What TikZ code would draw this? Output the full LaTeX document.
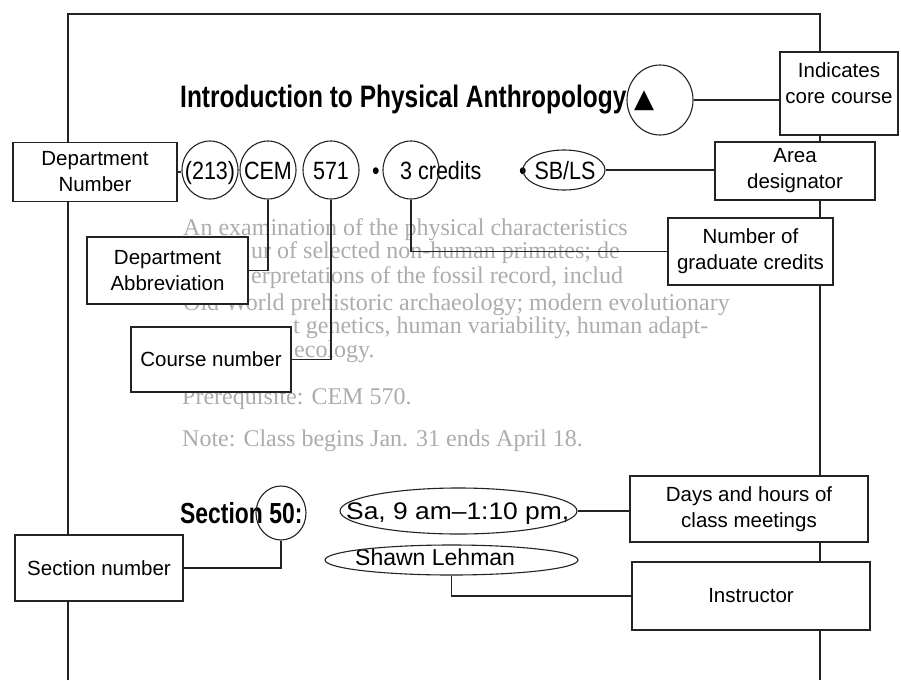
\documentclass[tikz,border=0pt]{standalone}
\usepackage{fontspec}
\setmainfont{Liberation Serif}
\usepackage{tikz}
\usetikzlibrary{shapes.geometric}
\newfontfamily\boxfont{Liberation Sans}
\newfontfamily\rowfont{Liberation Sans}[FakeStretch=0.86]
\newfontfamily\meetfont{Liberation Sans}[FakeStretch=1.1]
\newfontfamily\headfont{Liberation Sans}[FakeStretch=0.79]
\newfontfamily\symfont{DejaVu Sans}
\definecolor{fadetext}{RGB}{172,172,172}
\definecolor{inkline}{RGB}{35,35,35}

\begin{document}
\begin{tikzpicture}[
  x=1pt, y=-1pt,
  calloutbox/.style={draw=inkline, fill=white, line width=1.1pt, inner sep=0, align=center,
    font=\boxfont\fontsize{20.5}{26}\selectfont},
  ring/.style={ellipse, draw=inkline, line width=1.1pt, inner sep=0},
  rowtext/.style={font=\rowfont\fontsize{25}{25}\selectfont, inner sep=0, anchor=base},
  headtext/.style={font=\headfont\bfseries\fontsize{31}{31}\selectfont, inner sep=0, anchor=west},
  fadeline/.style={font=\fontsize{24}{24}\selectfont, text=fadetext, inner sep=0, anchor=base west},
  link/.style={draw=inkline, line width=1.1pt},
]
\useasboundingbox (0,0) rectangle (901,680);

% Page frame (open at the bottom)
\draw[link] (68,680) -- (68,14) -- (820,14) -- (820,680);

% ==================== Faded course description ====================
\node[fadeline] (desc1) at (183,235) {An examination of the physical characteristics};
\node[fadeline] (desc2) at (251,258) {ur of selected non-human primates; de};
\node[fadeline] (desc3) at (251,283) {erpretations of the fossil record, includ};
\node[fadeline] (desc4) at (183,310) {Old World prehistoric archaeology; modern evolutionary};
\node[fadeline] (desc5) at (293,333) {t genetics, human variability, human adapt-};
\node[fadeline] (desc6) at (294,357) {ecology.};
\node[fadeline] (prereq) at (182,404) {Prerequisite: CEM 570.};
\node[fadeline] (note) at (182,446) {Note: Class begins Jan. 31 ends April 18.};

% ==================== Callout boxes ====================
\node[calloutbox, minimum width=118pt, minimum height=83pt] (core) at (839,93.5) {Indicates\\core course\\[-5pt]\mbox{}};
\node[calloutbox, minimum width=160pt, minimum height=58pt] (area) at (795,171) {Area\\designator};
\node[calloutbox, minimum width=165pt, minimum height=67pt] (gradcred) at (750.5,251.5) {Number of\\graduate credits};
\node[calloutbox, minimum width=164pt, minimum height=59pt] (deptnum) at (95,172) {Department\\Number};
\node[calloutbox, minimum width=161pt, minimum height=67pt] (deptabbr) at (167.5,270.5) {Department\\Abbreviation};
\node[calloutbox, minimum width=160pt, minimum height=65pt] (coursenum) at (211,359.5) {Course number};
\node[calloutbox, minimum width=168pt, minimum height=66pt] (sectnum) at (99,568) {Section number};
\node[calloutbox, minimum width=238pt, minimum height=66pt] (meethours) at (749,509) {Days and hours of\\class meetings};
\node[calloutbox, minimum width=238pt, minimum height=68pt] (instr) at (751,596) {Instructor};

% ==================== Listing text ====================
\node[headtext] (title) at (180,100) {Introduction to Physical Anthropology};
\node[inner sep=0, font=\symfont\fontsize{26}{26}\selectfont] (tri) at (644,101) {▲};

\node[rowtext] (t213) at (210,179) {(213)};
\node[rowtext] (tcem) at (268,179) {CEM};
\node[rowtext] (t571) at (331,179) {571};
\node[rowtext] (dot1) at (376,179) {•};
\node[rowtext, anchor=base west] (tcred) at (400,179) {3 credits};
\node[rowtext] (dot2) at (523,179) {•};
\node[rowtext] (tsbls) at (565,179) {SB/LS};

\node[headtext, font=\headfont\bfseries\fontsize{29}{29}\selectfont] (tsect) at (180,513) {Section 50:};
\node[rowtext, anchor=base west, font=\meetfont\fontsize{24}{24}\selectfont] (tmeet) at (346,519) {Sa, 9 am–1:10 pm,};
\node[rowtext, anchor=base west, font=\boxfont\fontsize{23}{23}\selectfont] (tshawn) at (355,565) {Shawn Lehman};

% ==================== Rings ====================
\node[ring, minimum width=66pt, minimum height=70pt] (corering) at (660,100) {};
\node[ring, minimum width=56pt, minimum height=58pt] (r213) at (210,170) {};
\node[ring, minimum width=56pt, minimum height=58pt] (rcem) at (268,170) {};
\node[ring, minimum width=56pt, minimum height=58pt] (r571) at (331,170) {};
\node[ring, minimum width=56pt, minimum height=58pt] (rcred) at (411,170) {};
\node[ring, minimum width=82pt, minimum height=40pt] (rsbls) at (564,170) {};
\node[ring, minimum width=50pt, minimum height=54pt] (rsect) at (281,513) {};
\node[ring, minimum width=237pt, minimum height=46pt] (rmeet) at (458.5,511) {};
\node[ring, minimum width=253pt, minimum height=30pt] (rshawn) at (451.5,560) {};

% ==================== Connectors ====================
\draw[link] (corering.east) -- (corering.east -| core.west);
\draw[link] (rsbls.east) -- (rsbls.east -| area.west);
\draw[link] (deptnum.east) -- (deptnum.east -| r213.west);
\draw[link] (rcem.south) |- (deptabbr.east);
\draw[link] (r571.south) |- (coursenum.east);
\draw[link] (rcred.south) |- (gradcred.west);
\draw[link] (rsect.south) |- (sectnum.east);
\draw[link] (rmeet.east) -- (rmeet.east -| meethours.west);
\draw[link] (rshawn.south) |- (instr.west);

\end{tikzpicture}
\end{document}
